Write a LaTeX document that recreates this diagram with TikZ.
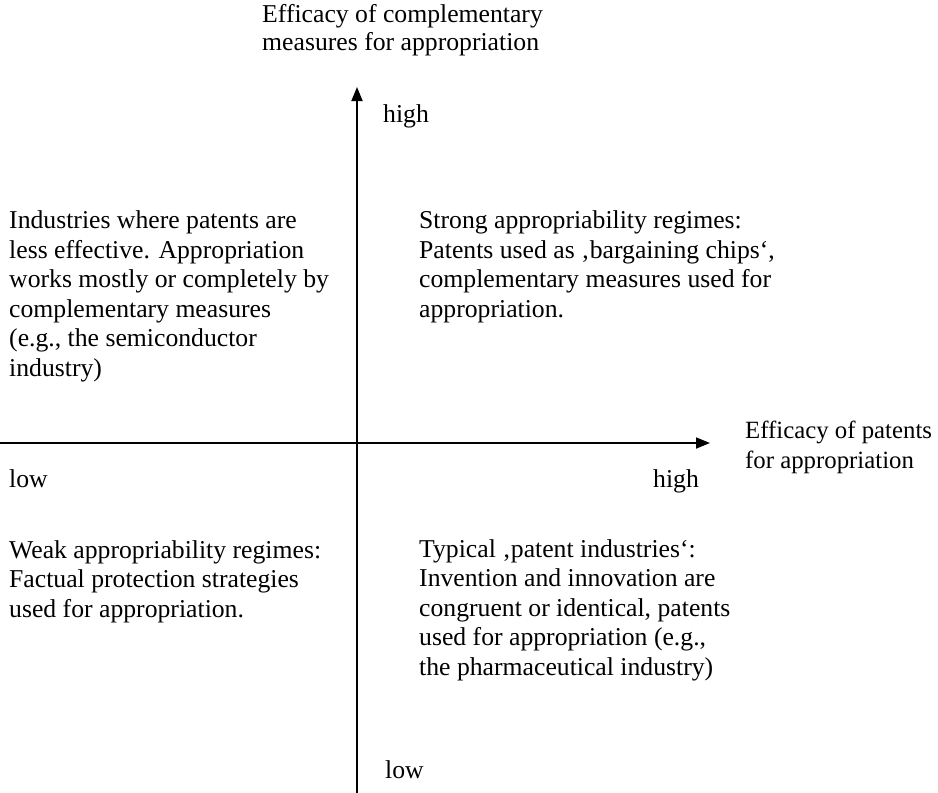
\documentclass[tikz,border=0pt]{standalone}
\usepackage{fontspec}
\setmainfont{Liberation Serif}
\usetikzlibrary{arrows.meta}

\tikzset{
    axisline/.style={line width=1.8pt, -{Triangle[length=14pt,width=11pt]}},
    txt/.style={anchor=base west, align=left, inner sep=0pt,
        font=\fontsize{25.7}{29.5}\selectfont}
}

\begin{document}
\begin{tikzpicture}[x=1pt,y=-1pt]
            \useasboundingbox (0,0) rectangle (938,793);
            
            \coordinate (vbottom) at (357,793);
            \coordinate (vtop) at (357,87);
            \coordinate (hleft) at (0,443);
            \coordinate (hright) at (710,443);
            
            \draw[axisline] (vbottom) -- (vtop);
            \draw[axisline] (hleft) -- (hright);
            
            % multi-line texts: placed at the baseline of their last line
            \node[txt, font=\fontsize{25.7}{28}\selectfont] (ytitle) at (262,50) {Efficacy of complementary\\measures for appropriation};
            \node[txt] (yhigh) at (383,122) {high};
            \node[txt] (ylow) at (385,778) {low};
            
            \node[txt, font=\fontsize{24.8}{29.5}\selectfont] (xtitle) at (745,468) {Efficacy of patents\\for appropriation};
            \node[txt] (xlow) at (9,487) {low};
            \node[txt] (xhigh) at (653,487) {high};
            
            \node[txt] (upleft) at (9,376) {Industries where patents are\\less effective. Appropriation\\works mostly or completely by\\complementary measures\\(e.g., the semiconductor\\industry)};
            \node[txt] (upright) at (419,317) {Strong appropriability regimes:\\Patents used as ‚bargaining chips‘,\\complementary measures used for\\appropriation.};
            \node[txt] (lowleft) at (9,617) {Weak appropriability regimes:\\Factual protection strategies\\used for appropriation.};
            \node[txt] (lowright) at (419,675) {Typical ‚patent industries‘:\\Invention and innovation are\\congruent or identical, patents\\used for appropriation (e.g.,\\the pharmaceutical industry)};
            
        \end{tikzpicture}
\end{document}
